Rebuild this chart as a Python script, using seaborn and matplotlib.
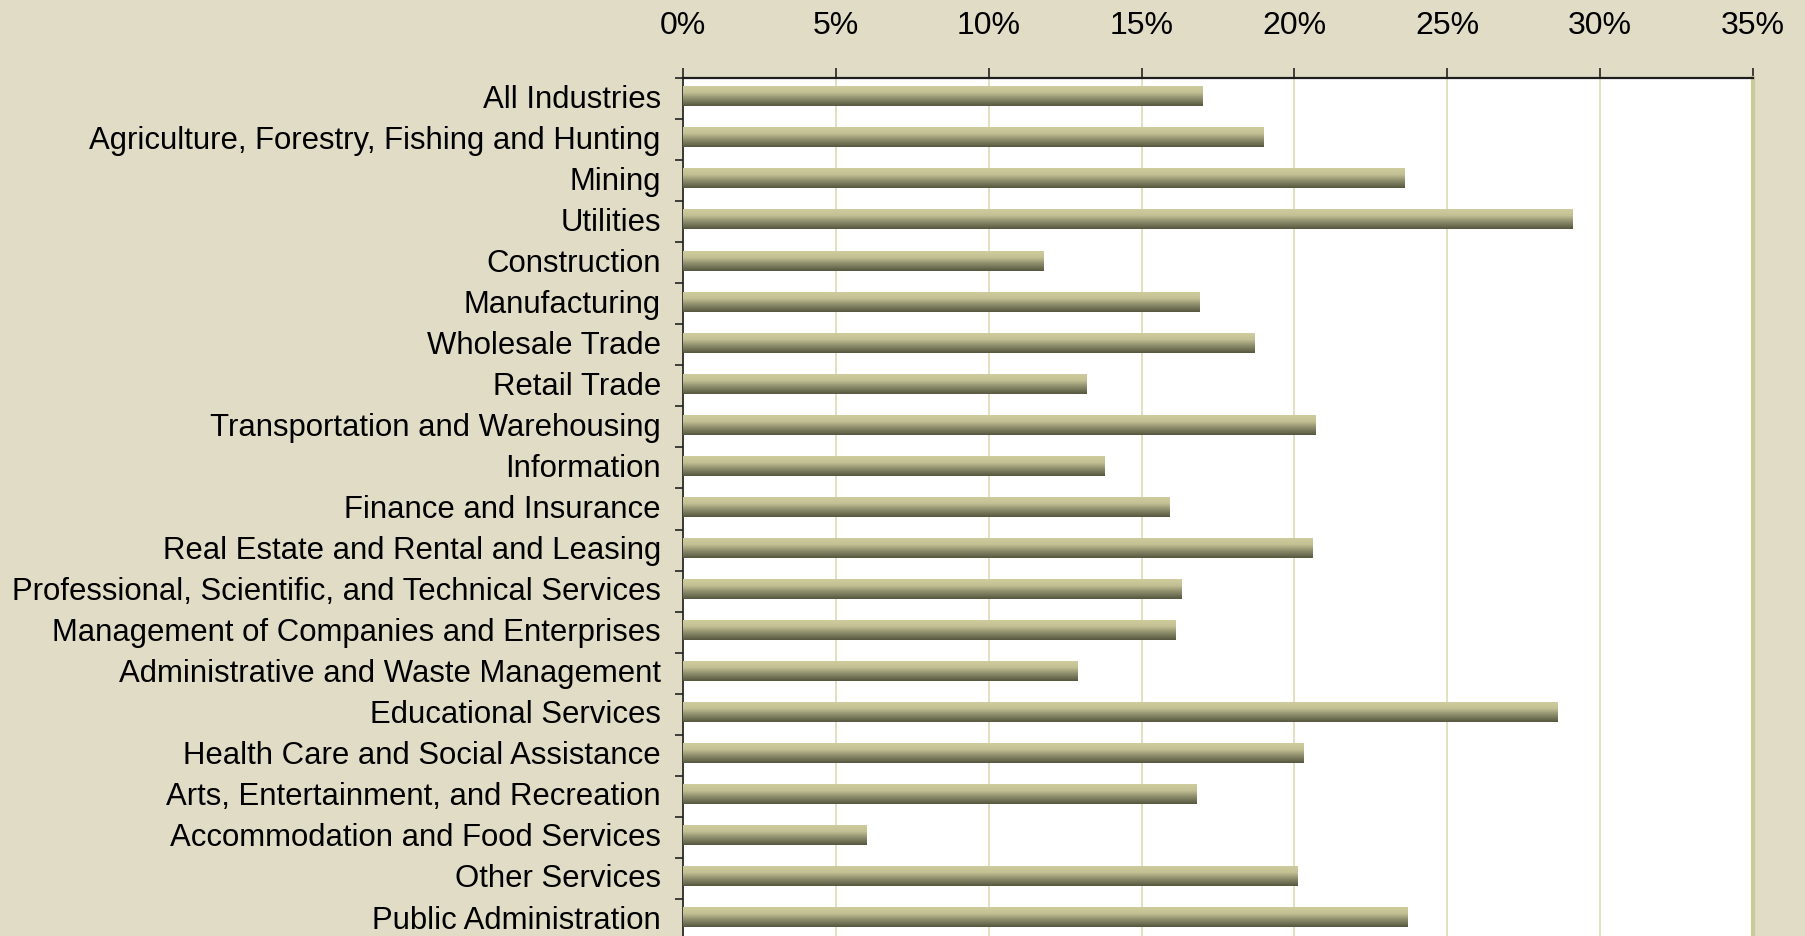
import numpy as np
import pandas as pd
import matplotlib
matplotlib.use("Agg")
import matplotlib.pyplot as plt
from matplotlib.colors import LinearSegmentedColormap
from matplotlib.ticker import FuncFormatter, FixedLocator
from matplotlib.transforms import ScaledTranslation
import seaborn as sns

# Данные
industries = [
    "All Industries",
    "Agriculture, Forestry, Fishing and Hunting",
    "Mining",
    "Utilities",
    "Construction",
    "Manufacturing",
    "Wholesale Trade",
    "Retail Trade",
    "Transportation and Warehousing",
    "Information",
    "Finance and Insurance",
    "Real Estate and Rental and Leasing",
    "Professional, Scientific, and Technical Services",
    "Management of Companies and Enterprises",
    "Administrative and Waste Management",
    "Educational Services",
    "Health Care and Social Assistance",
    "Arts, Entertainment, and Recreation",
    "Accommodation and Food Services",
    "Other Services",
    "Public Administration",
]
share_pct = [17.0, 19.0, 23.6, 29.1, 11.8, 16.9, 18.7, 13.2, 20.7, 13.8, 15.9,
             20.6, 16.3, 16.1, 12.9, 28.6, 20.3, 16.8, 6.0, 20.1, 23.7]
x_ticks = [0, 5, 10, 15, 20, 25, 30, 35]

df = pd.DataFrame({"industry": industries, "share": share_pct})

sns.set_style("white")
plt.rcParams["font.family"] = ["Liberation Sans", "DejaVu Sans"]
fsize = 22.4

bg = "#E0DCC6"
fig = plt.figure(figsize=(18.06, 9.37), dpi=100, facecolor=bg)
ax = fig.add_axes([0.3782, -0.0043, 0.5925, 0.92])
ax.set_facecolor("white")

sns.barplot(data=df, x="share", y="industry", orient="h", width=0.48,
            color="#A0A078", ax=ax, zorder=3)

# Градиент на столбиках (светлый сверху, тёмный снизу)
cmap = LinearSegmentedColormap.from_list(
    "olive", [(0.0, "#CECB9D"), (0.3, "#C4C295"), (0.65, "#8A8A6A"), (1.0, "#56573F")])
grad = np.linspace(0, 1, 64).reshape(-1, 1)
for p in ax.patches:
    x0, y0 = p.get_x(), p.get_y() - 0.05
    w, h = p.get_width(), p.get_height()
    ax.imshow(grad, extent=(x0, x0 + w, y0 + h, y0), aspect="auto", cmap=cmap,
              origin="upper", zorder=3, interpolation="bilinear")
    p.set_visible(False)

n = len(industries)
ax.set_xlim(0, 35)
ax.set_ylim(n - 0.5, -0.5)

ax.xaxis.set_ticks_position("top")
ax.xaxis.set_label_position("top")
ax.set_xticks(x_ticks)
ax.xaxis.set_major_formatter(FuncFormatter(lambda v, pos: f"{v:.0f}%"))
ax.tick_params(axis="x", which="major", direction="out", length=7, width=1.2,
               color="#222222", pad=20, labelsize=fsize + 0.6, labelcolor="black")

# Засечки по оси Y на границах категорий
ax.yaxis.set_minor_locator(FixedLocator(np.arange(-0.5, n, 1.0)))
ax.tick_params(axis="y", which="major", length=0, pad=16, labelsize=fsize,
               labelcolor="black")
ax.tick_params(axis="y", which="minor", direction="out", length=6, width=1.2,
               color="#222222", left=True)

shift_up = ScaledTranslation(0, 2.5 / 72, fig.dpi_scale_trans)
for lab in ax.get_yticklabels():
    lab.set_transform(lab.get_transform() + shift_up)

ax.grid(axis="x", color="#DCDBB4", lw=1.2, zorder=0)
ax.grid(axis="y", visible=False)

for side in ["top", "left"]:
    ax.spines[side].set_visible(True)
    ax.spines[side].set_color("#1E1E1E")
ax.spines["top"].set_linewidth(1.6)
ax.spines["left"].set_linewidth(1.2)
ax.spines["right"].set_visible(True)
ax.spines["right"].set_color("#CBCB98")
ax.spines["right"].set_linewidth(3)
ax.spines["bottom"].set_visible(False)

ax.set_xlabel("")
ax.set_ylabel("")

plt.savefig("out.png", dpi=100, facecolor=bg)
plt.close()
